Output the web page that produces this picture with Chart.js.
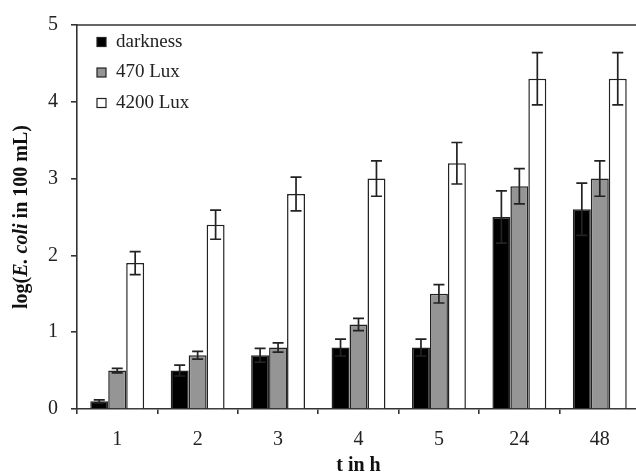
<!DOCTYPE html>
<html>
<head>
<script src="https://cdn.jsdelivr.net/npm/chart.js"></script>
<style>
    html, body { margin: 0; padding: 0; overflow: hidden; background: #fff; }
    #wrap { width: 642px; height: 473px; }
</style>
</head>
<body>
<div id="wrap"><canvas id="chart"></canvas></div>
<script>
// categories (hours) and series values
const hours = ['1', '2', '3', '4', '5', '24', '48'];
const darkness = [0.1, 0.5, 0.7, 0.8, 0.8, 2.5, 2.6];
const darknessErr = [0.02, 0.07, 0.09, 0.11, 0.11, 0.34, 0.34];
const lux470 = [0.5, 0.7, 0.8, 1.1, 1.5, 2.9, 3.0];
const lux470Err = [0.03, 0.05, 0.06, 0.08, 0.12, 0.23, 0.23];
const lux4200 = [1.9, 2.4, 2.8, 3.0, 3.2, 4.3, 4.3];
const lux4200Err = [0.15, 0.19, 0.22, 0.23, 0.27, 0.34, 0.34];
const yTicks = [0, 1, 2, 3, 4, 5];

const serif = '"Liberation Serif", "DejaVu Serif", serif';
const ink = '#222';

// draws error bars on top of every bar
const errorBars = {
    id: 'errorBars',
    afterDatasetsDraw(chart) {
        const ctx = chart.ctx;
        const y = chart.scales.y;
        ctx.save();
        ctx.strokeStyle = ink;
        ctx.lineWidth = 1.7;
        chart.data.datasets.forEach((ds, i) => {
            const meta = chart.getDatasetMeta(i);
            meta.data.forEach((bar, j) => {
                const v = ds.data[j], e = ds.err[j];
                const top = y.getPixelForValue(v + e);
                const bot = y.getPixelForValue(v - e);
                const half = 5.5;
                ctx.beginPath();
                ctx.moveTo(bar.x, top); ctx.lineTo(bar.x, bot);
                ctx.moveTo(bar.x - half, top); ctx.lineTo(bar.x + half, top);
                ctx.moveTo(bar.x - half, bot); ctx.lineTo(bar.x + half, bot);
                ctx.stroke();
            });
        });
        ctx.restore();
    }
};

// frame line on top, rotated y title with italic part, legend inside the plot
const extras = {
    id: 'extras',
    afterDraw(chart) {
        const ctx = chart.ctx;
        const a = chart.chartArea;
        ctx.save();
        ctx.strokeStyle = '#333';
        ctx.lineWidth = 1.6;
        ctx.beginPath();
        ctx.moveTo(a.left, a.top); ctx.lineTo(a.right, a.top);
        ctx.stroke();

        // y axis title
        const parts = [
            ['log(', 'bold 20px ' + serif],
            ['E. coli', 'italic bold 20px ' + serif],
            [' in 100 mL)', 'bold 20px ' + serif]
        ];
        let total = 0;
        parts.forEach(p => { ctx.font = p[1]; total += ctx.measureText(p[0]).width; });
        ctx.translate(22, (a.top + a.bottom) / 2);
        ctx.rotate(-Math.PI / 2);
        ctx.fillStyle = '#111';
        ctx.textBaseline = 'middle';
        ctx.textAlign = 'left';
        let x = -total / 2;
        parts.forEach(p => {
            ctx.font = p[1];
            ctx.fillText(p[0], x, 0);
            x += ctx.measureText(p[0]).width;
        });
        ctx.setTransform(1, 0, 0, 1, 0, 0);

        // legend
        ctx.font = '19px ' + serif;
        ctx.textBaseline = 'middle';
        chart.data.datasets.forEach((ds, i) => {
            const cy = 42 + i * 30.5;
            ctx.fillStyle = ds.backgroundColor;
            ctx.fillRect(97, cy - 4.5, 9, 9);
            ctx.strokeStyle = ink;
            ctx.lineWidth = 1.2;
            ctx.strokeRect(97, cy - 4.5, 9, 9);
            ctx.fillStyle = ink;
            ctx.fillText(ds.label, 116, cy);
        });
        ctx.restore();
    }
};

const makeSet = (label, data, err, color) => ({
    label, data, err,
    backgroundColor: color,
    borderColor: ink,
    borderWidth: 1.5,
    categoryPercentage: 0.67,
    barPercentage: 1.0
});

new Chart(document.getElementById('chart'), {
    type: 'bar',
    data: {
        labels: hours,
        datasets: [
            makeSet('darkness', darkness, darknessErr, '#000000'),
            makeSet('470 Lux', lux470, lux470Err, '#959595'),
            makeSet('4200 Lux', lux4200, lux4200Err, '#ffffff')
        ]
    },
    plugins: [errorBars, extras],
    options: {
        responsive: true,
        maintainAspectRatio: false,
        animation: false,
        layout: { padding: { top: 21, right: 2, left: 0, bottom: 0 } },
        plugins: {
            legend: { display: false },
            tooltip: { enabled: false }
        },
        scales: {
            x: {
                afterFit(scale) { scale.height = 64; },
                grid: { drawOnChartArea: false, tickLength: 5, color: '#333', lineWidth: 1.6 },
                border: { color: '#333', width: 1.6 },
                ticks: { color: ink, font: { family: serif, size: 20 }, padding: 14 },
                title: {
                    display: true,
                    text: 't in h',
                    color: '#111',
                    font: { family: serif, size: 20, weight: 'bold', lineHeight: 0.75 },
                    padding: 0
                }
            },
            y: {
                min: 0,
                max: 5,
                afterFit(scale) { scale.width = 77; },
                afterBuildTicks(scale) { scale.ticks = yTicks.map(v => ({ value: v })); },
                grid: { drawOnChartArea: false, tickLength: 6, color: '#333', lineWidth: 1.6 },
                border: { color: '#333', width: 1.6 },
                ticks: { color: ink, font: { family: serif, size: 20 }, padding: 13 }
            }
        }
    }
});
</script>
</body>
</html>
